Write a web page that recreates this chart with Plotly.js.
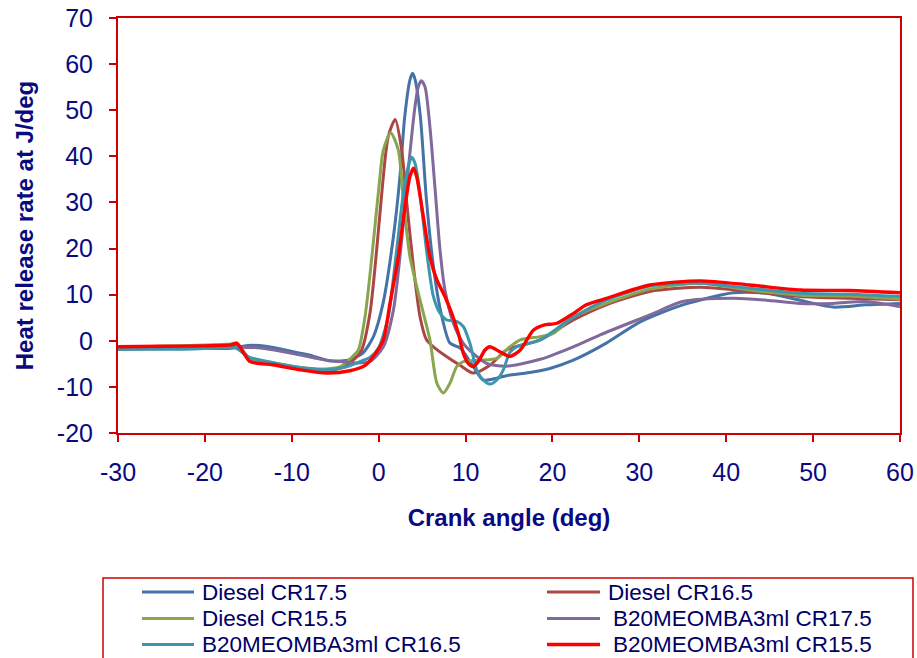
<!DOCTYPE html>
<html>
<head>
<meta charset="utf-8">
<script src="https://cdn.plot.ly/plotly-3.0.1.min.js"></script>
<style>html,body{margin:0;padding:0;background:#fff;}#chart{width:917px;height:658px;}</style>
</head>
<body>
<div id="chart"></div>
<script>
// Series names
const seriesNames = ["Diesel CR17.5", "Diesel CR16.5", "Diesel CR15.5",
                     "B20MEOMBA3ml CR17.5", "B20MEOMBA3ml CR16.5", "B20MEOMBA3ml CR15.5"];

// Tick labels
const xTickVals = [-30, -20, -10, 0, 10, 20, 30, 40, 50, 60];
const xTickText = ["-30", "-20", "-10", "0", "10", "20", "30", "40", "50", "60"];
const yTickVals = [-20, -10, 0, 10, 20, 30, 40, 50, 60, 70];
const yTickText = ["-20", "-10", "0", "10", "20", "30", "40", "50", "60", "70"];

// Diesel CR17.5
const xDiesel175 = [-30,-25,-20,-17,-16,-15,-13,-10,-8,-5.5,-3.3,-1.8,-0.6,0.5,1.7,2.45,3.0,3.6,3.9,4.2,4.8,5.5,6.3,7.1,8.2,9.4,10.9,12.0,13.6,15.1,16.6,19.7,22.4,26.2,30.1,35,40.8,44.6,48.5,52.3,56.1,60];
const yDiesel175 = [-1.8,-1.8,-1.7,-1.6,-1.3,-1.0,-1.2,-2.3,-3.1,-4.4,-4.1,-2.6,0.9,8.1,22.6,35.6,48.6,56.6,58,56.6,48.6,30.5,16.1,6.7,-0.5,-1.6,-5.6,-8.5,-8.1,-7.4,-7.1,-6.0,-4.2,-0.5,4.1,7.8,10.4,10.3,8.8,7.3,7.8,8.1];

// Diesel CR16.5
const xDiesel165 = [-30,-25,-20,-17,-16.3,-14.8,-12,-9,-6,-4.5,-3,-1.96,-1.0,-0.23,0.46,1.1,1.9,2.65,3.2,4.0,4.76,5.5,6.3,7.8,9.36,10.9,12.8,14.7,18.6,22.4,26.2,31.2,37,42.7,48.5,54.2,60];
const yDiesel165 = [-1.6,-1.5,-1.2,-1.0,-0.8,-3.9,-5.0,-6.0,-6.5,-6.0,-4.3,-2.0,6.0,19.7,34.1,44.3,48,41.4,30.5,16.1,5.2,0.2,-1.3,-3.4,-5.3,-7.0,-5.3,-2.0,0.2,4.5,7.8,10.7,11.6,10.7,9.6,9.2,8.9];

// Diesel CR15.5
const xDiesel155 = [-30,-25,-20,-17,-16.4,-14.9,-12,-9,-6,-4.4,-3.0,-2.34,-1.57,-0.7,0.07,0.54,1.38,2.26,2.84,3.6,4.76,5.9,6.7,7.44,8.2,8.98,9.74,11.7,13.6,15.1,16.3,18.6,20.1,22.4,26.2,31.2,37,42.7,48.5,54.2,60];
const yDiesel155 = [-1.4,-1.2,-0.9,-0.7,-0.5,-3.8,-4.8,-5.8,-6.1,-5.6,-3.4,-2.0,5.2,19.7,34.1,41.4,45.1,41.4,30.5,18.2,8.85,0.2,-9.2,-11.3,-9.2,-5.6,-4.5,-4.2,-3.8,-1.3,0.2,0.9,1.6,5.2,8.1,11.2,12.5,11.0,9.9,9.7,9.0];

// B20MEOMBA3ml CR17.5
const xB20175 = [-30,-25,-20,-16,-14,-12,-9,-6,-4.3,-2.5,-1.0,0.54,1.7,2.65,3.4,4.18,4.56,4.9,5.33,5.9,6.5,7.06,7.63,8.6,9.74,10.9,12.4,14.7,18.6,22.4,25.5,31.2,35,40.8,44.6,48.5,52.3,56.1,60];
const yB20175 = [-1.6,-1.6,-1.5,-1.4,-1.5,-2.0,-3.1,-4.2,-4.5,-4.8,-4.5,-1.3,6.7,21.9,37.0,50.8,55.1,56.4,55.1,46.4,32.7,19.7,11.0,3.8,-0.55,-2.8,-4.9,-5.5,-4.0,-1.3,1.3,5.6,8.5,9.2,8.8,8.1,8.1,8.5,7.4];

// B20MEOMBA3ml CR16.5
const xB20165 = [-30,-25,-20,-16.5,-15,-12,-9,-6,-4,-2,-1,0,1.1,2.07,2.84,3.4,3.8,4.18,4.76,5.5,6.3,7.06,7.83,8.98,9.74,10.5,11.28,12.04,12.8,13.6,14.35,15.1,15.9,18.6,21.6,23.5,26.2,31.2,37,42.7,48.5,54.2,60];
const yB20165 = [-1.9,-1.8,-1.7,-1.5,-3.5,-4.8,-5.8,-6.3,-5.8,-4.4,-3.6,-1.5,5.2,19.7,32.0,37.8,39.8,38.5,32.0,19.7,9.6,6.0,4.5,4.2,3.1,-0.55,-6.3,-8.5,-9.4,-8.5,-6.3,-2.5,-1.3,0.2,4.1,6.3,8.8,11.9,12.5,11.4,10.3,10.1,9.6];

// B20MEOMBA3ml CR15.5
const xB20155 = [-30,-25,-20,-17,-16.3,-14.8,-12.2,-9,-6,-3.3,-1.6,-0.62,0.54,1.3,2.26,3.03,3.6,4.0,4.37,5.14,5.9,6.7,7.63,8.4,9.17,9.74,10.3,10.9,11.47,12.24,12.8,13.96,15.1,16.3,17.8,19.0,20.5,22.4,23.9,26.2,31.2,37,42.7,48.5,54.2,60];
const yB20155 = [-1.3,-1.2,-1.1,-0.9,-0.55,-4.5,-5.2,-6.3,-7.0,-6.5,-5.4,-3.4,0.2,8.1,18.2,29.1,35.6,37.4,35.6,26.9,18.2,13.2,9.6,6.0,1.6,-2.7,-4.9,-5.6,-4.5,-2.0,-1.3,-2.4,-3.4,-2.0,2.3,3.4,3.8,5.9,7.8,9.2,12.1,13.0,12.1,11.0,10.9,10.4];

const xs = [xDiesel175, xDiesel165, xDiesel155, xB20175, xB20165, xB20155];
const ys = [yDiesel175, yDiesel165, yDiesel155, yB20175, yB20165, yB20155];
const colors = ["#4572A7", "#AA4643", "#89A54E", "#80699B", "#3D96AE", "#FF0000"];
const widths = [3, 3, 3, 3, 3, 3.4];

const traces = seriesNames.map((n, i) => ({
  type: "scatter", mode: "lines", name: n,
  x: xs[i], y: ys[i],
  line: {color: colors[i], width: widths[i], shape: "spline", smoothing: 0.7}
}));

const F = "Arial, 'Liberation Sans', sans-serif";
const navy = "#0A0A80";
const red = "#CC0000";

// page geometry (pixels) -> paper coords
const W = 917, H = 658, ML = 118, MR = 17, MT = 18, MB = 225;
const PW = W - ML - MR, PH = H - MT - MB;
const px = v => (v - ML) / PW;
const py = v => (H - MB - v) / PH;

// Custom 2-column legend (box, samples, labels)
const shapes = [{
  type: "rect", xref: "paper", yref: "paper",
  x0: px(103), x1: px(913), y0: py(685), y1: py(578),
  line: {color: red, width: 1.5}, fillcolor: "rgba(0,0,0,0)", layer: "above"
}];
const annotations = [];
const colSample = [[142, 194], [547, 600]];
const colText = [200, 606];
const rowY = [592, 618.5, 644.5];
seriesNames.forEach((n, i) => {
  const c = i % 2, r = Math.floor(i / 2);
  shapes.push({
    type: "line", xref: "paper", yref: "paper",
    x0: px(colSample[c][0]), x1: px(colSample[c][1]), y0: py(rowY[r]), y1: py(rowY[r]),
    line: {color: colors[i], width: widths[i]}
  });
  annotations.push({
    xref: "paper", yref: "paper", x: px(colText[c] + (c === 1 && i > 1 ? 5 : 0)), y: py(rowY[r]),
    xanchor: "left", yanchor: "middle", showarrow: false, text: n,
    font: {family: F, size: 22.5, color: "#000066"}
  });
});

const layout = {
  width: W, height: H,
  margin: {l: ML, r: MR, t: MT, b: MB},
  paper_bgcolor: "#fff", plot_bgcolor: "#fff",
  font: {family: F, color: navy},
  showlegend: false,
  xaxis: {
    range: [-30, 60], tickmode: "array", tickvals: xTickVals, ticktext: xTickText,
    showgrid: false, zeroline: false,
    showline: true, linecolor: red, linewidth: 2, mirror: true,
    ticks: "outside", ticklen: 7, tickwidth: 2, tickcolor: red,
    tickfont: {family: F, size: 25, color: navy},
    ticklabelstandoff: 9,
    title: {text: "<b>Crank angle (deg)</b>", font: {family: F, size: 24, color: navy}, standoff: 24}
  },
  yaxis: {
    range: [-20, 70], tickmode: "array", tickvals: yTickVals, ticktext: yTickText,
    showgrid: false, zeroline: false,
    showline: true, linecolor: red, linewidth: 2, mirror: true,
    ticks: "outside", ticklen: 7, tickwidth: 2, tickcolor: red,
    tickfont: {family: F, size: 25, color: navy},
    ticklabelstandoff: 11,
    title: {text: "<b>Heat release rate at J/deg</b>", font: {family: F, size: 24, color: navy}, standoff: 16}
  },
  shapes: shapes,
  annotations: annotations
};

Plotly.newPlot("chart", traces, layout, {displayModeBar: false, staticPlot: true});
</script>
</body>
</html>
